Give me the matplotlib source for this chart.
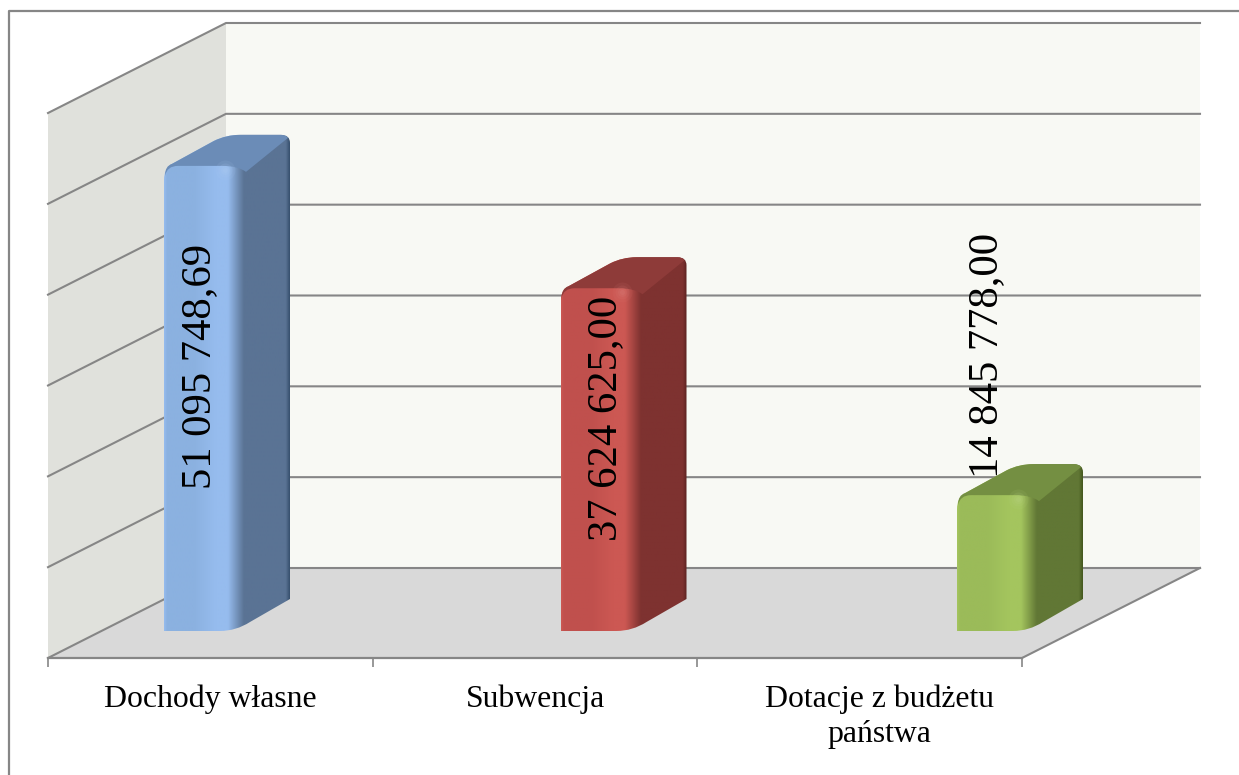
import numpy as np
import matplotlib
matplotlib.use("Agg")
import matplotlib.pyplot as plt
from matplotlib.path import Path
from matplotlib.patches import PathPatch, Polygon
from matplotlib.transforms import ScaledTranslation
from matplotlib.colors import to_rgb

categories = ["Dochody własne", "Subwencja", "Dotacje z budżetu\npaństwa"]
values = [51095748.69, 37624625.00, 14845778.00]
value_ticks = [0, 10, 20, 30, 40, 50, 60]  # millions

front_colors = ["#8BB1E0", "#C0504D", "#9BBB59"]
bright_colors = ["#96BCEE", "#CC5853", "#A4C55E"]
side_colors = ["#5A7394", "#7E3230", "#617735"]
top_colors = ["#6B8CB7", "#8E3B39", "#748F42"]
dark_colors = ["#37506E", "#5C2321", "#44581F"]
label_dx = [36, 45, 30]      # px from bar left edge to label centre
label_dy = [-200, -129, 141]  # px from bar top to label centre (up is positive)

plt.rcParams["font.family"] = ["Liberation Serif", "DejaVu Serif"]
W, H = 1239, 775
X0, X1, Y0, Y1 = 48, 1022, 658, 113
GRID = "#868686"

fig = plt.figure(figsize=(W / 100, H / 100), dpi=100, facecolor="white")
ax = fig.add_axes([X0 / W, 1 - Y0 / H, (X1 - X0) / W, (Y0 - Y1) / H])
ax.patch.set_visible(False)
PX = 3 / (X1 - X0)       # category units per pixel
PY = 60 / (Y0 - Y1)      # millions per pixel
DX, DY = 178 * PX, 90 * PY  # wall depth

# frame
fig.add_artist(plt.Line2D([9 / W, 9 / W, 1], [0, 1 - 11 / H, 1 - 11 / H],
                          color=GRID, lw=1.6, transform=fig.transFigure))

# walls and floor
top = value_ticks[-1]
ax.add_patch(Polygon([(DX, DY), (3 + DX, DY), (3 + DX, DY + top), (DX, DY + top)],
                     fc="#F8F9F4", ec="none", clip_on=False, zorder=1))
ax.add_patch(Polygon([(0, 0), (DX, DY), (DX, DY + top), (0, top)],
                     fc="#E0E1DC", ec="none", clip_on=False, zorder=1))
ax.add_patch(Polygon([(0, 0), (3, 0), (3 + DX, DY), (DX, DY)],
                     fc="#D9D9D9", ec="none", clip_on=False, zorder=1))
for t in value_ticks:
    ax.plot([0, DX, 3 + DX], [t, t + DY, t + DY], color=GRID, lw=1.5,
            clip_on=False, zorder=2, solid_joinstyle="miter")
ax.plot([3, 3 + DX], [0, DY], color=GRID, lw=1.5, clip_on=False, zorder=2)


def make_path(cmds, x0, y0):
    verts, codes = [], []
    for c in cmds:
        if len(c) == 2:
            verts.append(c)
            codes.append(Path.LINETO if verts[:-1] else Path.MOVETO)
        else:
            verts += [(c[0], c[1]), (c[2], c[3])]
            codes += [Path.CURVE3, Path.CURVE3]
    verts.append(verts[0])
    codes.append(Path.CLOSEPOLY)
    v = np.array(verts, float)
    return Path(np.c_[x0 + v[:, 0] * PX, y0 + v[:, 1] * PY], codes)


BAR_X0 = (164 - X0) * PX
BAR_STEP = 396.5 * PX
BASE = (Y0 - 631) * PY
stops = [0, 3, 30, 52, 64, 72, 80, 122, 126]

for i, v in enumerate(values):
    val = v / 1e6
    x0 = BAR_X0 + i * BAR_STEP
    h = val / PY
    f, b, s, tc, d = [np.array(to_rgb(c)) for c in
                      (front_colors[i], bright_colors[i], side_colors[i],
                       top_colors[i], dark_colors[i])]
    cols = np.array([b, f, f, b, b, (b + s) / 2, s, s, d])
    us = np.linspace(0, 126, 253)
    grad = np.stack([np.interp(us, stops, cols[:, k]) for k in range(3)], axis=-1)[None, :, :]
    sil = make_path([(0, 0), (56, 0), (72, 0, 86, 9), (126, 32), (126, h + 24),
                     (126, h + 32, 117, h + 32), (76, h + 32), (62, h + 32, 50, h + 26),
                     (8, h + 3), (0, h - 1, 0, h - 13)], x0, BASE)
    patch = PathPatch(sil, fc="none", ec="none", clip_on=False, zorder=3)
    ax.add_patch(patch)
    im = ax.imshow(grad, extent=(x0, x0 + 126 * PX, BASE - 1, BASE + val + 33 * PY),
                   aspect="auto", interpolation="bilinear", zorder=3, origin="lower")
    im.set_clip_box(fig.bbox)
    im.set_clip_path(patch)
    topf = make_path([(1, h - 9), (1, h + 1, 8, h + 3), (50, h + 26), (62, h + 32, 76, h + 32),
                      (117, h + 32), (122, h + 32, 124, h + 29), (82, h - 5),
                      (74, h + 1, 58, h + 1), (14, h + 1), (3, h + 1, 1, h - 9)], x0, BASE)
    ax.add_patch(PathPatch(topf, fc=tc, ec="none", clip_on=False, zorder=4))
    for rad, a in ((10, .10), (7, .14), (4.5, .2), (2.5, .25)):
        ax.scatter([x0 + 61 * PX], [BASE + (h - 3) * PY], s=(rad * 1.44) ** 2, color=b * .8 + .2,
                   alpha=a, lw=0, clip_on=False, zorder=4.5)
    ax.text(x0 + label_dx[i] * PX, BASE + val + label_dy[i] * PY,
            f"{int(v):,}".replace(",", " ") + f",{round((v % 1) * 100):02d}",
            rotation=90, ha="center", va="center", fontsize=30.7, color="black",
            clip_on=False, zorder=6)

ax.set_xlim(0, 3)
ax.set_ylim(0, 60)
ax.set_autoscale_on(False)
for name in ("top", "left", "right"):
    ax.spines[name].set_visible(False)
ax.spines["bottom"].set_color(GRID)
ax.spines["bottom"].set_linewidth(1.6)
ax.spines["bottom"].set_zorder(5)
ax.set_yticks([])
ax.set_xticks([0, 1, 2, 3])
ax.set_xticklabels([])
ax.set_xticks([0.5, 1.5, 2.5], categories, minor=True, fontsize=22.9, color="black",
              linespacing=1.26)
ax.tick_params(axis="x", which="major", length=6.5, width=1.2, color=GRID)
ax.tick_params(axis="x", which="minor", length=0, pad=19)
lbl = ax.get_xticklabels(minor=True)[2]
lbl.set_transform(lbl.get_transform() + ScaledTranslation(20 / 100, 0, fig.dpi_scale_trans))

fig.savefig("out.png", dpi=100, facecolor="white")
